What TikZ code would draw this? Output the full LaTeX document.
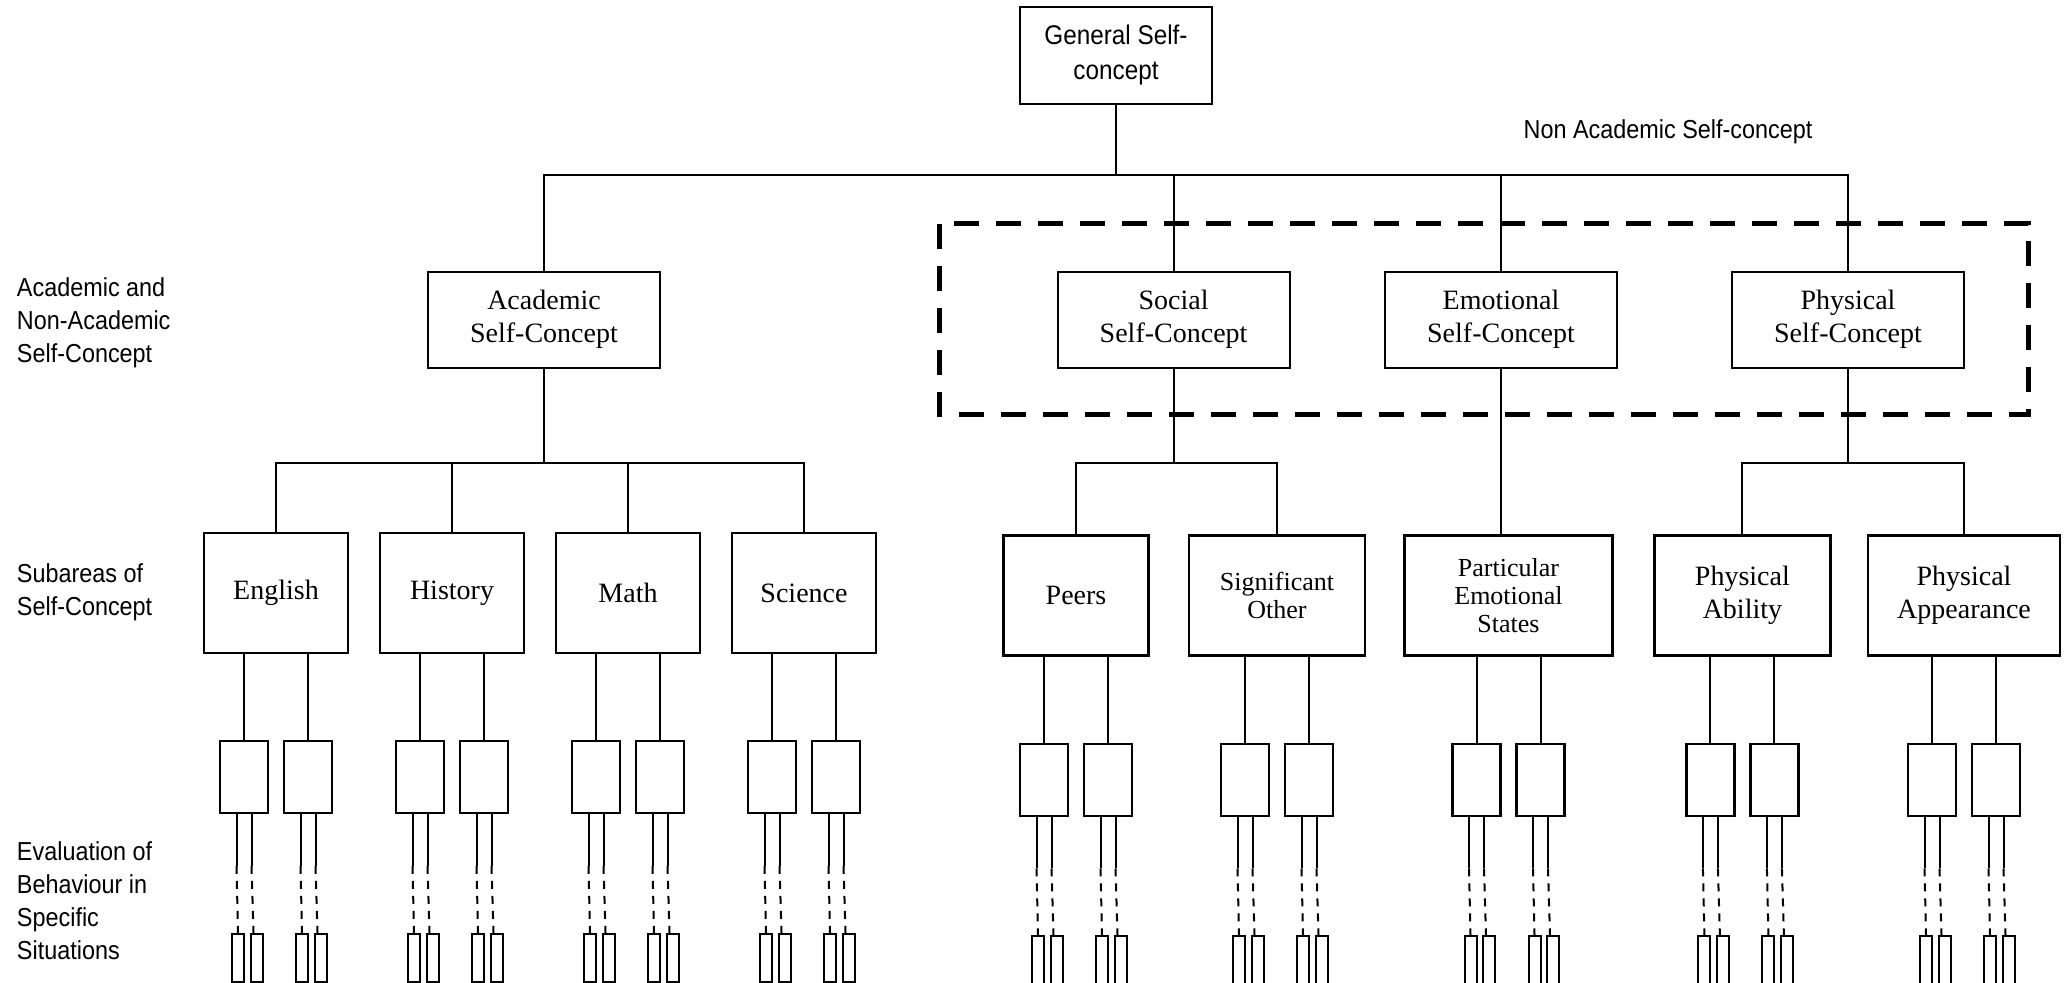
\documentclass[tikz,border=0pt]{standalone}
\usepackage{fontspec}
\setmainfont{Liberation Serif}
\newfontfamily\narrowsans[FakeStretch=0.9]{Liberation Sans}
\usetikzlibrary{positioning}

\tikzset{
  conceptbox/.style={draw, rectangle, line width=1.1pt, align=center, inner sep=0pt,
    font=\fontsize{14}{16.5}\selectfont, minimum width=116pt, minimum height=48pt},
  areabox/.style={draw, rectangle, line width=1.1pt, align=center, inner sep=0pt,
    font=\fontsize{14}{16.5}\selectfont, minimum height=60pt},
  evalbox/.style={draw, rectangle, line width=1.1pt, minimum width=24pt, minimum height=36pt, inner sep=0pt},
  situbox/.style={draw, rectangle, line width=1pt, minimum width=6pt, minimum height=24pt, inner sep=0pt},
  levellabel/.style={anchor=west, align=left, inner sep=0pt, font=\narrowsans\fontsize{13}{16.5}\selectfont},
}

\begin{document}
\begin{tikzpicture}[x=0.5pt, y=-0.5pt, line width=1pt]
        \useasboundingbox (0,0) rectangle (2065,983);

        % levels
        \node[levellabel] (lvl1) at (16,323) {Academic and\\Non-Academic\\Self-Concept};
        \node[levellabel] (lvl2) at (16,592) {Subareas of\\Self-Concept};
        \node[levellabel] (lvl3) at (16,901) {Evaluation of\\Behaviour in\\Specific\\Situations};

        % top
        \node[draw, rectangle, line width=1.1pt, align=center, inner sep=0pt, minimum width=96pt, minimum height=48.5pt,
              font=\narrowsans\fontsize{13.5}{17.5}\selectfont] (gen) at (1116,55.5) {General Self-\\concept};
        \node[font=\narrowsans\fontsize{13}{16}\selectfont] (nonacad) at (1668,132) {Non Academic Self-concept};

        \node[conceptbox] (acad) at (544,319.7) {Academic\\Self-Concept};
        \node[conceptbox] (soc) at (1173.6,319.7) {Social\\Self-Concept};
        \node[conceptbox] (emo) at (1501,319.7) {Emotional\\Self-Concept};
        \node[conceptbox] (phy) at (1848,319.7) {Physical\\Self-Concept};

        \draw[line width=2.5pt, dash pattern=on 12.5pt off 8.5pt] (939.5,224) rectangle (2028,415);

        % subareas
        \node[areabox, minimum width=72pt] (eng) at (276,593) {English};
        \node[areabox, minimum width=72pt] (his) at (452,593) {History};
        \node[areabox, minimum width=72pt] (mat) at (628,593) {Math};
        \node[areabox, minimum width=72pt] (sci) at (804,593) {Science};
        \node[areabox, minimum width=72.5pt] (peer) at (1076,595.5) {Peers};
        \node[areabox, minimum width=88pt, font=\fontsize{13}{14}\selectfont] (sig) at (1277,595.5) {Significant\\Other};
        \node[areabox, minimum width=104pt, font=\fontsize{13}{14}\selectfont] (pes) at (1508.5,595.5) {Particular\\Emotional\\States};
        \node[areabox, minimum width=88pt] (pab) at (1742.4,595.5) {Physical\\Ability};
        \node[areabox, minimum width=96pt] (pap) at (1964,595.5) {Physical\\Appearance};

        % tree lines
        \coordinate (genbus) at (1116,175.5);
        \draw (gen) -- (genbus);
        \draw (acad.north) |- (genbus) -| (phy.north);
        \draw (soc.north) -- (soc.north |- genbus);
        \draw (emo.north) -- (emo.north |- genbus);

        \coordinate (acadbus) at (544,463);
        \draw (acad.south) -- (acadbus);
        \draw (eng.north) |- (acadbus) -| (sci.north);
        \draw (his.north) -- (his.north |- acadbus);
        \draw (mat.north) -- (mat.north |- acadbus);

        \coordinate (socbus) at (1173.6,463);
        \draw (soc.south) -- (socbus);
        \draw (peer.north) |- (socbus) -| (sig.north);

        \draw (emo.south) -- (emo.south |- pes.north);

        \coordinate (phybus) at (1848,463);
        \draw (phy.south) -- (phybus);
        \draw (pab.north) |- (phybus) -| (pap.north);

        % behaviour boxes
        \foreach \n in {eng,his,mat,sci,peer,sig,pes,pab,pap} {
          \foreach \s/\dx in {a/-16pt,b/16pt} {
            \node[evalbox, below=43pt of \n.south, xshift=\dx] (\n-\s) {};
            \draw (\n-\s.north) -- (\n-\s.north |- \n.south);
            \node[situbox, below=59.25pt of \n-\s.south, xshift=-3pt] (\n-\s1) {};
            \node[situbox, below=59.25pt of \n-\s.south, xshift=6.25pt] (\n-\s2) {};
            \draw ([xshift=-3.75pt]\n-\s.south) -- ++(0,51.5) coordinate (\n-\s-m1);
            \draw ([xshift=3.75pt]\n-\s.south) -- ++(0,51.5) coordinate (\n-\s-m2);
            \draw[dash pattern=on 4pt off 3.5pt] (\n-\s-m1) -- (\n-\s1.north);
            \draw[dash pattern=on 4pt off 3.5pt] (\n-\s-m2) -- ([xshift=-1.5pt]\n-\s2.north);
          }
        }
\end{tikzpicture}
\end{document}
